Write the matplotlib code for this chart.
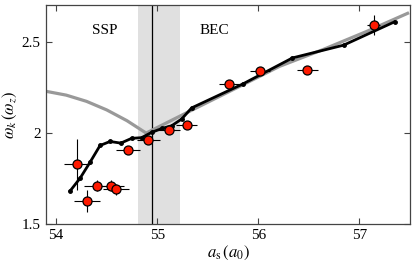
import matplotlib
matplotlib.use("Agg")
import matplotlib.pyplot as plt
import numpy as np

plt.rcParams['font.family'] = ['Liberation Serif', 'DejaVu Serif']
plt.rcParams['mathtext.fontset'] = 'stix'

# theory curve (gray)
theory_x = [53.9, 54.1, 54.3, 54.5, 54.7, 54.89, 55.35, 55.8, 56.21, 56.64, 57.07, 57.49]
theory_y = [2.227, 2.206, 2.172, 2.125, 2.066, 1.998, 2.126, 2.25, 2.364, 2.456, 2.555, 2.658]

# simulation (black)
sim_x = [54.138, 54.237, 54.336, 54.434, 54.533, 54.639, 54.746, 54.845, 54.945,
         55.049, 55.142, 55.241, 55.34, 55.849, 56.337, 56.843, 57.347]
sim_y = [1.681, 1.751, 1.839, 1.930, 1.952, 1.943, 1.969, 1.973, 2.002,
         2.024, 2.038, 2.075, 2.136, 2.268, 2.410, 2.480, 2.608]

# experiment (red)
exp_x = [54.204, 54.303, 54.402, 54.543, 54.592, 54.708, 54.911, 55.115, 55.29,
         55.711, 56.014, 56.485, 57.139]
exp_y = [1.826, 1.626, 1.710, 1.709, 1.690, 1.903, 1.958, 2.016, 2.044,
         2.268, 2.337, 2.342, 2.593]
exp_xerr = [0.13, 0.13, 0.13, 0.13, 0.13, 0.12, 0.115, 0.11, 0.1, 0.1, 0.1, 0.1, 0.06]
exp_yerr = [0.14, 0.06, 0.03, 0.03, 0.03, 0.02, 0.02, 0.02, 0.02, 0.02, 0.02, 0.02, 0.055]

band = (54.81, 55.22)
transition = 54.945

fig = plt.figure(figsize=(4.15, 2.65), dpi=100)
ax = fig.add_axes([0.111, 0.155, 0.877, 0.826])

ax.axvspan(band[0], band[1], color='#e0e0e0', lw=0, zorder=0)
ax.axvline(transition, color='black', lw=0.9, zorder=1)
ax.plot(theory_x, theory_y, color='#999999', lw=2.3, zorder=2, solid_capstyle='butt',
        solid_joinstyle='round')
ax.plot(sim_x, sim_y, color='black', lw=2.0, marker='o', ms=2.5, zorder=3)
ax.errorbar(exp_x, exp_y, xerr=exp_xerr, yerr=exp_yerr, fmt='o', color='black',
            ecolor='black', elinewidth=0.8, capsize=0, mfc='#ff1a00', mec='black',
            mew=0.9, ms=6.5, zorder=4)

ax.text(54.48, 2.56, 'SSP', fontsize=11, ha='center', va='center')
ax.text(55.56, 2.56, 'BEC', fontsize=11, ha='center', va='center')

ax.set_xlim(53.9, 57.5)
ax.set_ylim(1.5, 2.7)
ax.set_xticks([54, 55, 56, 57])
ax.set_xticklabels(['54', '55', '56', '57'])
ax.set_yticks([1.5, 2, 2.5])
ax.set_yticklabels(['1.5', '2', '2.5'])
ax.tick_params(direction='in', top=True, right=True, labelsize=11, length=4, width=0.8,
               color='#444444', pad=4)
for s in ax.spines.values():
    s.set_color('#444444')
    s.set_linewidth(0.9)

ax.set_xlabel(r'$a_{\mathrm{s}}\,(a_0)$', fontsize=12, labelpad=1)
ax.set_ylabel(r'$\omega_k\,(\omega_z)$', fontsize=12, labelpad=2)

fig.savefig('out.png', dpi=100)
